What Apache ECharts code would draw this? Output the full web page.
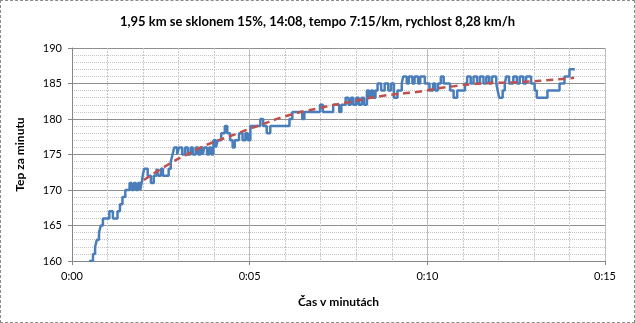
<!DOCTYPE html>
<html>
<head>
<meta charset="utf-8">
<title>Tep za minutu</title>
<script src="https://cdn.jsdelivr.net/npm/echarts@6/dist/echarts.min.js"></script>
<style>
  html, body { margin: 0; padding: 0; background: #fff; }
  #main { width: 635px; height: 323px; box-sizing: border-box; border: 1px dashed #8a8a8a; }
</style>
</head>
<body>
<div id="main"></div>
<script>
// cas v minutach (kde zacina hodnota) a tep
var timeMin = [
  0.48, 0.59, 0.65, 0.70, 0.76, 0.81, 0.87, 1.05, 1.15, 1.28, 1.35, 1.42, 1.50,
  1.62, 1.68, 1.74, 1.80, 1.86, 1.92, 1.96, 1.99, 2.03, 2.13, 2.22, 2.30, 2.38, 2.43, 2.50, 2.56, 2.72, 2.78, 2.83, 2.88,
  2.96, 3.01, 3.10, 3.18, 3.26, 3.34, 3.40, 3.48, 3.55, 3.62, 3.68, 3.72, 3.80, 3.86, 3.92, 3.98, 4.05, 4.10,
  4.20, 4.30, 4.37, 4.45, 4.52, 4.58, 4.70, 4.80, 4.88, 4.95, 5.02, 5.30, 5.38, 5.48, 5.58,
  6.12, 6.20, 6.48, 6.54, 6.98, 7.06, 7.35, 7.52, 7.58, 7.70, 7.78, 7.85, 7.92, 8.00, 8.07, 8.15, 8.22,
  8.30, 8.36, 8.42, 8.48, 8.54, 8.60, 8.70, 8.80, 8.90, 8.98, 9.06, 9.16, 9.28, 9.32,
  9.42, 9.48, 9.58, 9.64, 9.74, 9.80, 9.93, 10.00, 10.06, 10.16, 10.22, 10.30,
  10.38, 10.46, 10.64, 10.74, 10.84, 11.06, 11.12,
  11.22, 11.30, 11.40, 11.48, 11.58, 11.66, 11.74, 11.82, 11.94, 11.98, 12.02, 12.12, 12.18, 12.22,
  12.30, 12.42, 12.52, 12.60, 12.70, 12.78, 12.92, 13.02, 13.08, 13.38, 13.72, 13.86, 14.00, 14.15
];
var heartRate = [
  160, 161, 162, 163, 164, 165, 166, 167, 166, 167, 168, 169, 170,
  171, 170, 171, 170, 171, 170, 171, 172, 173, 172, 171, 172, 173, 172, 173, 172, 173, 174, 175, 176,
  175, 176, 175, 176, 175, 176, 175, 176, 175, 176, 175, 176, 175, 176, 175, 177, 176, 177,
  178, 179, 178, 177, 176, 177, 178, 177, 178, 177, 179, 180, 179, 178, 179,
  180, 181, 180, 181, 182, 181, 182, 181, 182, 183, 182, 183, 182, 183, 182, 183, 182,
  184, 183, 184, 183, 184, 185, 184, 185, 184, 185, 183, 184, 185, 186,
  185, 186, 185, 186, 185, 186, 185, 185, 184, 185, 184, 185,
  186, 185, 184, 183, 184, 185, 186,
  185, 186, 185, 186, 185, 186, 185, 186, 185, 184, 183, 184, 185, 186,
  185, 186, 185, 186, 185, 186, 185, 184, 183, 184, 185, 186, 187, 187
];
// spojnice trendu
var trendTime = [2.02, 2.78, 3.20, 3.76, 4.51, 5.16, 6.08, 6.92, 7.60, 8.80, 9.70, 10.57, 11.52, 12.64, 13.71, 14.13];
var trendRate = [171.4, 173.8, 174.9, 176.3, 177.7, 178.9, 180.5, 181.5, 182.2, 183.3, 183.8, 184.5, 185.0, 185.2, 185.6, 185.8];
var xTickLabels = ['0:00', '0:05', '0:10', '0:15'];

var chart = echarts.init(document.getElementById('main'));
var font = 'Lato, "Open Sans", sans-serif';

var option = {
  animation: false,
  textStyle: { fontFamily: font },
  title: {
    text: '1,95 km se sklonem 15%, 14:08, tempo 7:15/km, rychlost 8,28 km/h',
    left: 'center',
    top: 9,
    textStyle: { fontSize: 13, fontWeight: 'bold', color: '#000', fontFamily: font }
  },
  grid: { left: 71, right: 29, top: 47, bottom: 61 },
  xAxis: {
    type: 'value',
    min: 0, max: 15, interval: 5,
    name: 'Čas v minutách',
    nameLocation: 'middle',
    nameGap: 35,
    nameTextStyle: { fontSize: 12, fontWeight: 'bold', color: '#000', fontFamily: font },
    axisLine: { show: true, lineStyle: { color: '#868686' } },
    axisTick: { show: true, length: 4, lineStyle: { color: '#868686' } },
    axisLabel: {
      color: '#000', fontSize: 11, margin: 10,
      formatter: function (v) { return xTickLabels[Math.round(v / 5)]; }
    },
    splitLine: { show: true, lineStyle: { color: '#bdbdbd', width: 1 } },
    minorTick: { show: false, splitNumber: 5 },
    minorSplitLine: { show: true, lineStyle: { color: '#cacaca', type: [2, 1] } }
  },
  yAxis: {
    type: 'value',
    min: 160, max: 190, interval: 5,
    name: 'Tep za minutu',
    nameLocation: 'middle',
    nameGap: 46,
    nameTextStyle: { fontSize: 12, fontWeight: 'bold', color: '#000', fontFamily: font },
    axisLine: { show: true, lineStyle: { color: '#868686' } },
    axisTick: { show: true, length: 4, lineStyle: { color: '#868686' } },
    axisLabel: { color: '#000', fontSize: 11, margin: 10 },
    splitLine: { show: true, lineStyle: { color: '#8f8f8f', width: 1 } },
    minorTick: { show: false, splitNumber: 5 },
    minorSplitLine: { show: true, lineStyle: { color: '#c4c4c4', type: 'dotted' } }
  },
  series: [
    {
      name: 'Tep',
      type: 'line',
      step: 'end',
      showSymbol: false,
      data: timeMin.map(function (t, i) { return [t, heartRate[i]]; }),
      lineStyle: { color: '#4a7ebb', width: 2.5 },
      itemStyle: { color: '#4a7ebb' },
      z: 2
    },
    {
      name: 'Trend',
      type: 'line',
      smooth: true,
      showSymbol: false,
      data: trendTime.map(function (t, i) { return [t, trendRate[i]]; }),
      lineStyle: { color: '#c0504d', width: 2.5, type: [7, 5] },
      itemStyle: { color: '#c0504d' },
      z: 3
    }
  ]
};
chart.setOption(option);
</script>
</body>
</html>
